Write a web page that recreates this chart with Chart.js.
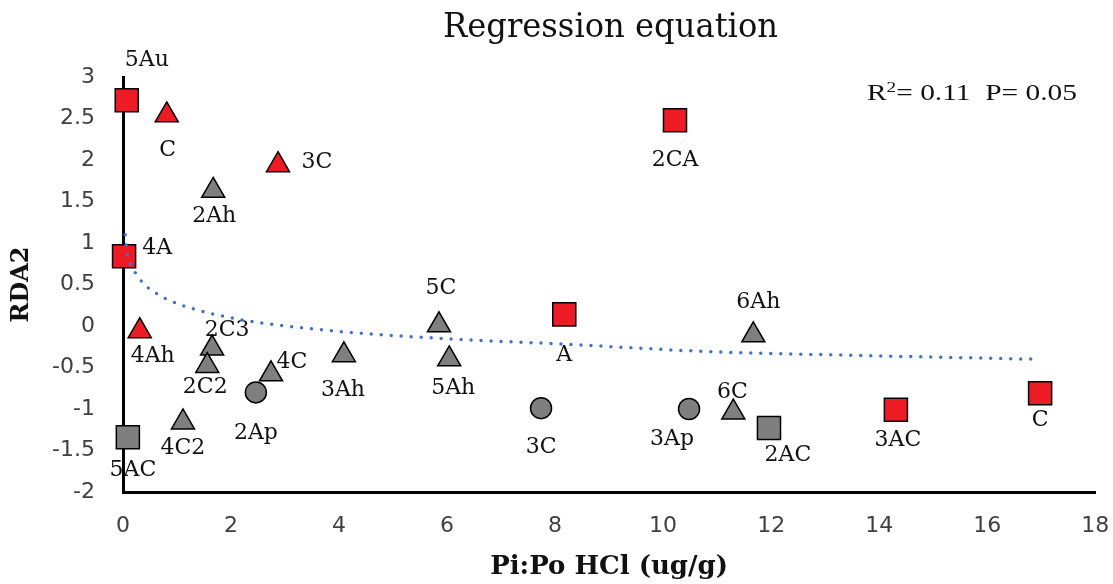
<!DOCTYPE html>
<html>
<head>
<meta charset="utf-8">
<title>Regression equation</title>
<script src="https://cdn.jsdelivr.net/npm/chart.js@4.4.1/dist/chart.umd.min.js"></script>
<style>
  html, body { margin: 0; padding: 0; background: #fff; }
  #chart { display: block; }
</style>
</head>
<body>
<canvas id="chart" width="1113" height="584"></canvas>
<script>
// Red squares
const redSquareX = [0.07, 0.02, 8.17, 10.22, 14.31, 16.98];
const redSquareY = [2.72, 0.84, 0.14, 2.48, -1.01, -0.81];
const redSquareNames = ['5Au', '4A', 'A', '2CA', '3AC', 'C'];

// Grey squares
const greySquareX = [0.09, 11.96];
const greySquareY = [-1.34, -1.23];
const greySquareNames = ['5AC', '2AC'];

// Red triangles
const redTriangleX = [0.81, 2.87, 0.31];
const redTriangleY = [2.54, 1.94, -0.06];
const redTriangleNames = ['C', '3C', '4Ah'];

// Grey triangles
const greyTriangleX = [1.67, 1.65, 1.56, 2.74, 4.09, 1.11, 5.85, 6.04, 11.30, 11.67];
const greyTriangleY = [1.63, -0.27, -0.48, -0.58, -0.35, -1.16, 0.01, -0.40, -1.04, -0.11];
const greyTriangleNames = ['2Ah', '2C3', '2C2', '4C', '3Ah', '4C2', '5C', '5Ah', '6C', '6Ah'];

// Grey circles
const greyCircleX = [2.46, 7.74, 10.48];
const greyCircleY = [-0.80, -0.99, -1.00];
const greyCircleNames = ['2Ap', '3C', '3Ap'];

// Log trend line
const trendX = [0.04, 0.07, 0.18, 0.37, 0.79, 1.29, 2.15, 3.9, 5.9, 8.2, 10.9, 13.3, 16.9];
const trendY = [1.10, 0.90, 0.70, 0.52, 0.33, 0.21, 0.08, -0.06, -0.15, -0.22, -0.31, -0.35, -0.40];

// Axis ticks
const xTickValues = [0, 2, 4, 6, 8, 10, 12, 14, 16, 18];
const yTickValues = [-2, -1.5, -1, -0.5, 0, 0.5, 1, 1.5, 2, 2.5, 3];

// Where each point name sits, relative to its marker (px)
const redSquareOffsets = [[20, -40], [33, -8], [0, 41], [0, 40], [2, 30], [0, 27]];
const greySquareOffsets = [[5, 33], [19, 27]];
const redTriangleOffsets = [[1, 35], [39, -3], [13, 25]];
const greyTriangleOffsets = [[1, 26], [15, -18], [-2, 21], [21, -12], [-1, 35], [0, 26], [2, -37], [4, 29], [-1, -20], [5, -33]];
const greyCircleOffsets = [[0, 41], [0, 39], [-17, 30]];

const RED = '#ED1C24';
const GREY = '#7F7F7F';

document.addEventListener('DOMContentLoaded', () => {
    const ctx = document.getElementById('chart').getContext('2d');

    const toPoints = (xs, ys) => xs.map((x, i) => ({ x: x, y: ys[i] }));

    const markerSet = (xs, ys, names, offsets, style, color, radius) => ({
        data: toPoints(xs, ys),
        names: names,
        offsets: offsets,
        pointStyle: style,
        pointRadius: radius,
        pointHoverRadius: radius,
        backgroundColor: color,
        borderColor: '#000',
        borderWidth: 1.5,
        showLine: false,
        clip: false
    });

    // Names next to the markers, drawn under the markers
    const pointLabels = {
        id: 'pointLabels',
        beforeDatasetsDraw(chart) {
            const c = chart.ctx;
            c.save();
            c.font = '22px "DejaVu Serif"';
            c.fillStyle = '#111';
            c.textAlign = 'center';
            c.textBaseline = 'middle';
            chart.data.datasets.forEach((ds, i) => {
                if (!ds.names) return;
                chart.getDatasetMeta(i).data.forEach((pt, j) => {
                    const [dx, dy] = ds.offsets[j];
                    c.fillText(ds.names[j], pt.x + dx, pt.y + dy);
                });
            });
            c.restore();
        }
    };

    // Title and the R2 / P note
    const headerText = {
        id: 'headerText',
        afterDraw(chart) {
            const c = chart.ctx;
            c.save();
            c.fillStyle = '#111';
            c.textBaseline = 'alphabetic';

            c.font = '34px "DejaVu Serif"';
            c.textAlign = 'left';
            const title = 'Regression equation';
            const tw = c.measureText(title).width;
            c.save();
            c.translate(443, 37);
            c.scale(335 / tw, 1);
            c.fillText(title, 0, 0);
            c.restore();

            const big = '23px "Liberation Serif"';
            const small = '15px "Liberation Serif"';
            const rest = '= 0.11  P= 0.05';
            c.font = big;
            const wR = c.measureText('R').width;
            const wRest = c.measureText(rest).width;
            c.font = small;
            const w2 = c.measureText('2').width;
            c.translate(867, 100);
            c.scale(210 / (wR + w2 + wRest), 1);
            c.font = big;
            c.fillText('R', 0, 0);
            c.font = small;
            c.fillText('2', wR, -8);
            c.font = big;
            c.fillText(rest, wR + w2, 0);
            c.restore();
        }
    };

    new Chart(ctx, {
        type: 'scatter',
        data: {
            datasets: [
                {
                    type: 'line',
                    data: toPoints(trendX, trendY),
                    borderColor: '#4472C4',
                    borderWidth: 3.5,
                    borderDash: [0, 10],
                    borderCapStyle: 'round',
                    cubicInterpolationMode: 'monotone',
                    pointRadius: 0,
                    fill: false,
                    clip: false
                },
                markerSet(redSquareX, redSquareY, redSquareNames, redSquareOffsets, 'rect', RED, 16.3),
                markerSet(greySquareX, greySquareY, greySquareNames, greySquareOffsets, 'rect', GREY, 16.3),
                markerSet(redTriangleX, redTriangleY, redTriangleNames, redTriangleOffsets, 'triangle', RED, 13.3),
                markerSet(greyTriangleX, greyTriangleY, greyTriangleNames, greyTriangleOffsets, 'triangle', GREY, 13.3),
                markerSet(greyCircleX, greyCircleY, greyCircleNames, greyCircleOffsets, 'circle', GREY, 10.5)
            ]
        },
        options: {
            responsive: false,
            animation: false,
            events: [],
            layout: { padding: { top: 77, right: 17, bottom: 0, left: 0 } },
            plugins: {
                legend: { display: false },
                tooltip: { enabled: false },
                title: { display: false }
            },
            scales: {
                x: {
                    type: 'linear',
                    min: 0,
                    max: 18,
                    afterBuildTicks: (scale) => { scale.ticks = xTickValues.map(v => ({ value: v })); },
                    afterFit: (scale) => { scale.height = 92; },
                    grid: { display: false, tickLength: 21 },
                    border: { display: true, color: '#000', width: 3 },
                    ticks: {
                        color: '#404040',
                        padding: 0,
                        font: { family: 'DejaVu Sans', size: 22 },
                        callback: (v) => String(v)
                    },
                    title: {
                        display: true,
                        text: 'Pi:Po HCl (ug/g)',
                        color: '#111',
                        padding: { top: 0, bottom: 4 },
                        font: { family: 'DejaVu Serif', size: 26, weight: 'bold', lineHeight: 1 }
                    }
                },
                y: {
                    type: 'linear',
                    min: -2,
                    max: 3,
                    afterBuildTicks: (scale) => { scale.ticks = yTickValues.map(v => ({ value: v })); },
                    afterFit: (scale) => { scale.width = 123; },
                    grid: { display: false, tickLength: 8 },
                    border: { display: true, color: '#000', width: 3 },
                    ticks: {
                        color: '#404040',
                        padding: 20,
                        font: { family: 'DejaVu Sans', size: 22 },
                        callback: (v) => String(v)
                    },
                    title: {
                        display: true,
                        text: 'RDA2',
                        color: '#111',
                        padding: { top: 10, bottom: 0 },
                        font: { family: 'DejaVu Serif', size: 24, weight: 'bold', lineHeight: 1 }
                    }
                }
            }
        },
        plugins: [pointLabels, headerText]
    });
});
</script>
</body>
</html>
